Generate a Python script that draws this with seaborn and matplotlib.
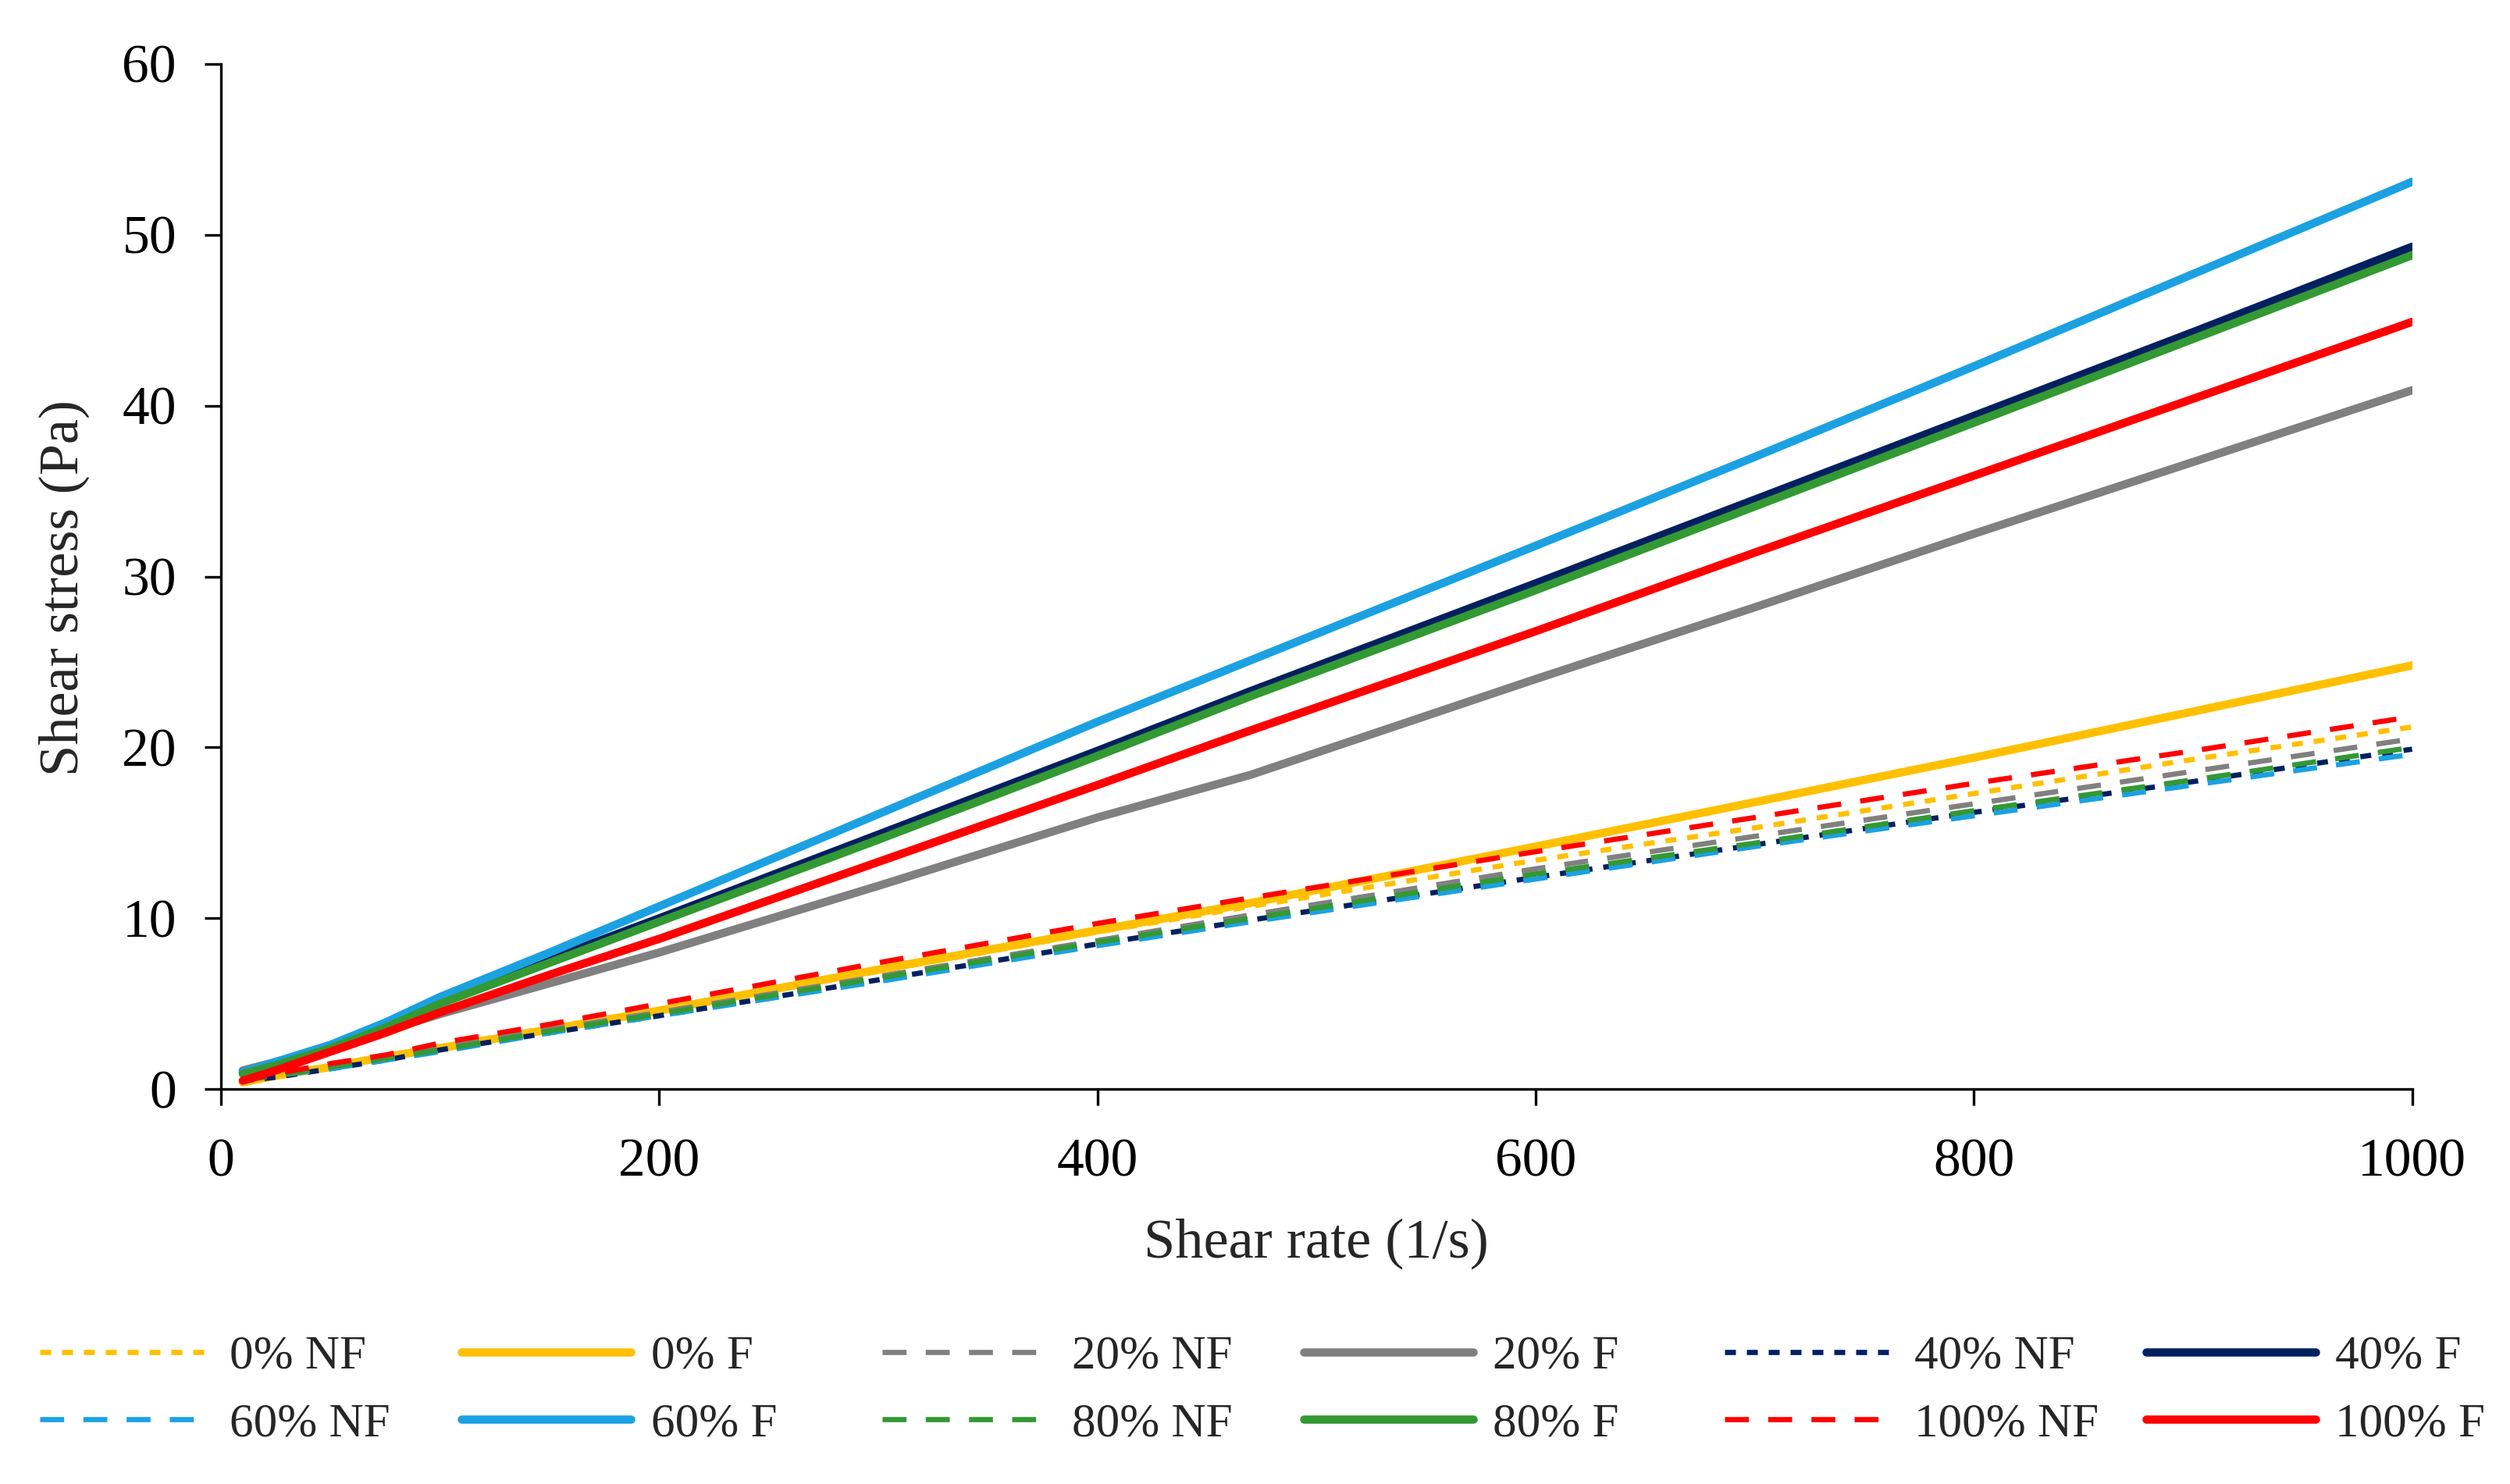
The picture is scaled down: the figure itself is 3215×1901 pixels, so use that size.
import numpy as np
import pandas as pd
import matplotlib
matplotlib.use("Agg")
import matplotlib.pyplot as plt
import seaborn as sns

# shear rate points (1/s)
shear_rate = [10, 25, 50, 75, 100, 150, 200, 300, 400, 470, 600, 700, 800, 900, 1000]

# shear stress (Pa) per sample
nf_0 = [0.5, 0.8, 1.3, 1.9, 2.5, 3.6, 4.6, 6.9, 9.2, 10.7, 13.4, 15.3, 17.3, 19.3, 21.2]
f_0 = [0.4, 0.8, 1.3, 1.9, 2.4, 3.5, 4.6, 7.0, 9.3, 10.9, 14.2, 16.8, 19.4, 22.1, 24.8]
nf_20 = [0.5, 0.8, 1.3, 1.8, 2.4, 3.5, 4.5, 6.6, 8.7, 10.2, 12.9, 14.8, 16.7, 18.6, 20.5]
f_20 = [1.1, 1.6, 2.4, 3.4, 4.4, 6.2, 8.0, 11.9, 15.9, 18.4, 24.0, 28.2, 32.5, 36.7, 40.9]
nf_40 = [0.5, 0.7, 1.2, 1.7, 2.3, 3.3, 4.3, 6.4, 8.5, 9.9, 12.4, 14.3, 16.2, 18.0, 19.9]
f_40 = [1.0, 1.5, 2.5, 3.7, 5.1, 7.6, 10.0, 14.9, 19.8, 23.3, 29.6, 34.5, 39.4, 44.3, 49.3]
nf_60 = [0.6, 0.8, 1.2, 1.7, 2.2, 3.3, 4.3, 6.3, 8.4, 9.8, 12.3, 14.2, 16.0, 17.8, 19.6]
f_60 = [1.0, 1.6, 2.6, 3.9, 5.4, 8.0, 10.7, 16.1, 21.5, 25.1, 31.8, 37.0, 42.3, 47.7, 53.1]
nf_80 = [0.6, 0.8, 1.3, 1.8, 2.3, 3.4, 4.4, 6.5, 8.6, 10.0, 12.6, 14.4, 16.3, 18.1, 20.0]
f_80 = [0.9, 1.4, 2.4, 3.6, 5.0, 7.4, 9.8, 14.6, 19.5, 23.0, 29.2, 34.1, 39.0, 43.9, 48.8]
nf_100 = [0.5, 0.9, 1.5, 2.0, 2.7, 3.8, 5.0, 7.4, 9.7, 11.2, 13.9, 15.9, 17.9, 19.8, 21.8]
f_100 = [0.5, 1.1, 2.2, 3.3, 4.5, 6.7, 8.8, 13.3, 17.8, 21.0, 26.8, 31.4, 35.9, 40.4, 44.9]

labels = ['0% NF', '0% F', '20% NF', '20% F', '40% NF', '40% F',
          '60% NF', '60% F', '80% NF', '80% F', '100% NF', '100% F']
values = [nf_0, f_0, nf_20, f_20, nf_40, f_40, nf_60, f_60, nf_80, f_80, nf_100, f_100]
colors = ['#FFC000', '#FFC000', '#808080', '#808080', '#002060', '#002060',
          '#1BA1E2', '#1BA1E2', '#339933', '#339933', '#FF0000', '#FF0000']

dot_dash = (2.1, 2.1)
long_dash = (4.6, 3.7)
styles = [dot_dash, None, long_dash, None, dot_dash, None,
          long_dash, None, long_dash, None, long_dash, None]

sns.set_style("ticks")
plt.rcParams['font.family'] = ['Liberation Serif', 'DejaVu Serif']

fig, ax = plt.subplots(figsize=(16.075, 9.505), dpi=200)
fig.subplots_adjust(left=0.088, right=0.961, top=0.957, bottom=0.266)

for lab, vals, col, st in zip(labels, values, colors, styles):
    df = pd.DataFrame({'x': shear_rate, 'y': vals})
    if st is None:
        sns.lineplot(data=df, x='x', y='y', ax=ax, color=col, linewidth=3.8, label=lab)
    else:
        sns.lineplot(data=df, x='x', y='y', ax=ax, color=col, linewidth=2.4,
                     linestyle=(0, st), label=lab)

ax.set_xlim(0, 1000)
ax.set_ylim(0, 60)
ax.set_xticks(np.arange(0, 1001, 200))
ax.set_yticks(np.arange(0, 61, 10))
sns.despine(ax=ax)
for s in ['left', 'bottom']:
    ax.spines[s].set_linewidth(1.2)
    ax.spines[s].set_color('black')
ax.tick_params(axis='both', direction='out', length=7.5, width=1.2, labelsize=25,
               colors='black', pad=13)
ax.tick_params(axis='x', pad=15)
ax.set_xlabel('Shear rate (1/s)', fontsize=26, va='center')
ax.set_ylabel('Shear stress (Pa)', fontsize=26, va='center')
ax.xaxis.set_label_coords(0.5, -0.151)
ax.yaxis.set_label_coords(-0.0716, 0.489)

h, l = ax.get_legend_handles_labels()
ax.get_legend().remove()
# one small legend per column so every column gets the same width (like Excel)
for c in range(6):
    fig.legend([h[c], h[c + 6]], [l[c], l[c + 6]], loc='center left',
               bbox_to_anchor=(0.016 + 0.1678 * c, 0.063), frameon=False,
               fontsize=22, handlelength=3.55, handletextpad=0.42,
               labelspacing=0.5, borderpad=0, borderaxespad=0)

fig.savefig('out.png', dpi=200)
